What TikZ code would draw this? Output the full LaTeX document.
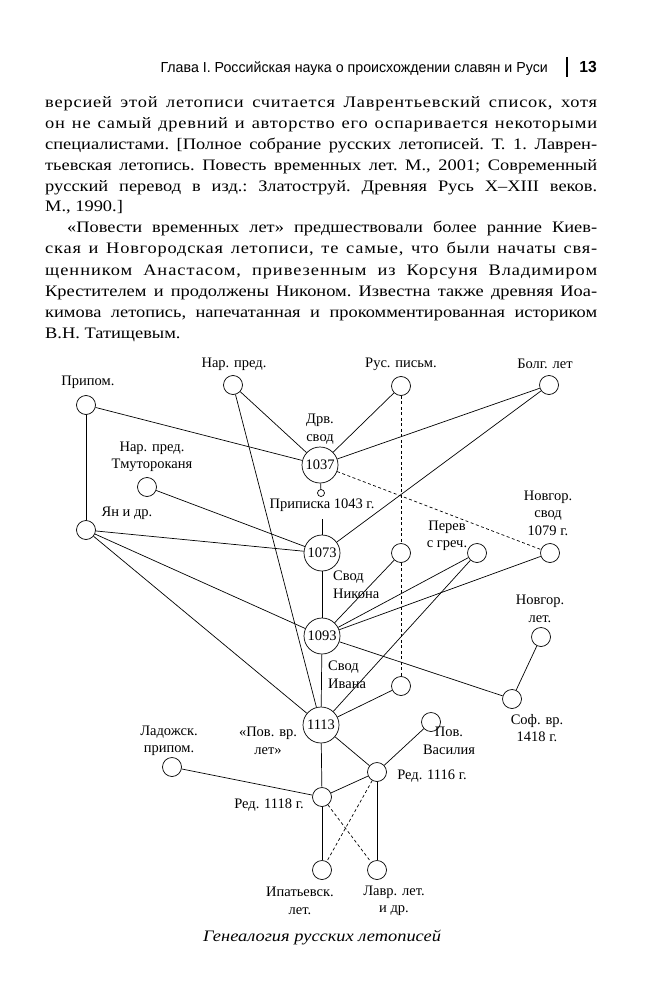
\documentclass[tikz,border=0pt]{standalone}
\usepackage{fontspec}
\setmainfont{Liberation Serif}
\newfontfamily\headfont[FakeStretch=0.98]{Liberation Sans}
\newfontfamily\bodyfont[FakeStretch=1.15]{Liberation Serif}
\newfontfamily\bodyfontA[FakeStretch=1.15,LetterSpace=5]{Liberation Serif}
\newfontfamily\bodyfontB[FakeStretch=1.15,LetterSpace=6]{Liberation Serif}
\newcommand{\bodysize}{\fontsize{16}{21}\selectfont\frenchspacing}
\begin{document}
\begin{tikzpicture}[x=1pt,y=-1pt,
  sm/.style={circle,draw,minimum size=19pt,inner sep=0pt,line width=0.7pt},
  big/.style={circle,draw,minimum size=36pt,inner sep=0pt,line width=0.7pt,font=\fontsize{14.5}{17}\selectfont},
  tinyc/.style={circle,draw,minimum size=7pt,inner sep=0pt,line width=0.7pt},
  lbl/.style={font=\fontsize{14.5}{17.5}\selectfont,align=center,inner sep=0pt},
  ln/.style={line width=0.7pt},
  dsh/.style={line width=0.7pt,dash pattern=on 3pt off 2.5pt},
  bodyline/.style={anchor=base west,inner sep=0pt,font=\bodyfont\bodysize},
  bodylineA/.style={anchor=base west,inner sep=0pt,font=\bodyfontA\bodysize},
  bodylineB/.style={anchor=base west,inner sep=0pt,font=\bodyfontB\bodysize}]
\useasboundingbox (0,0) rectangle (655,1000);
\fill[white] (0,0) rectangle (655,1000);
% header
\node[anchor=base east,inner sep=0pt,font=\headfont\fontsize{14.5}{17}\selectfont] (hd) at (548,73) {Глава I. Российская наука о происхождении славян и Руси};
\coordinate (bt) at (567,57);
\coordinate (bb) at (567,77);
\draw[line width=1.6pt] (bt) -- (bb);
\node[anchor=base east,inner sep=0pt,font=\headfont\fontsize{16}{18}\selectfont\bfseries] (pg) at (597,73) {13};
% body text
\node[bodylineA] (t1) at (45,108) {\makebox[552pt][s]{версией этой летописи считается Лаврентьевский список, хотя}};
\node[bodylineA] (t2) at (45,129) {\makebox[552pt][s]{он не самый древний и авторство его оспаривается некоторыми}};
\node[bodyline] (t3) at (45,150) {\makebox[552pt][s]{специалистами. [Полное собрание русских летописей. Т. 1. Лаврен-}};
\node[bodyline] (t4) at (45,171) {\makebox[552pt][s]{тьевская летопись. Повесть временных лет. М., 2001; Современный}};
\node[bodyline] (t5) at (45,192) {\makebox[552pt][s]{русский перевод в изд.: Златоструй. Древняя Русь X–XIII веков.}};
\node[bodyline] (t6) at (45,212) {М., 1990.]};
\node[bodyline] (t7) at (67,233) {\makebox[530pt][s]{«Повести временных лет» предшествовали более ранние Киев-}};
\node[bodylineA] (t8) at (45,254) {\makebox[552pt][s]{ская и Новгородская летописи, те самые, что были начаты свя-}};
\node[bodylineB] (t9) at (45,275) {\makebox[552pt][s]{щенником Анастасом, привезенным из Корсуня Владимиром}};
\node[bodyline] (t10) at (45,296) {\makebox[552pt][s]{Крестителем и продолжены Никоном. Известна также древняя Иоа-}};
\node[bodyline] (t11) at (45,317) {\makebox[552pt][s]{кимова летопись, напечатанная и прокомментированная историком}};
\node[bodyline] (t12) at (45,338) {В.Н. Татищевым.};
% circles
\node[sm] (pripom) at (86,405) {};
\node[sm] (narpred) at (233,385) {};
\node[sm] (ruspis) at (401,386) {};
\node[sm] (bolg) at (549,385) {};
\node[sm] (tmut) at (147,487) {};
\node[sm] (yan) at (86,530) {};
\node[big] (n1037) at (320,465) {1037};
\node[tinyc] (prip) at (321,493) {};
\node[big] (n1073) at (322,553) {1073};
\node[big] (n1093) at (322,636) {1093};
\node[big] (n1113) at (321,725) {1113};
\node[sm] (ca) at (401,553) {};
\node[sm] (cb) at (401,686) {};
\node[sm] (perev) at (477,553) {};
\node[sm] (novsv) at (550,553) {};
\node[sm] (novlet) at (541,637) {};
\node[sm] (sof) at (512,699) {};
\node[sm] (povvas) at (431,722) {};
\node[sm] (red16) at (377,772) {};
\node[sm] (red18) at (322,797) {};
\node[sm] (ladog) at (172,767) {};
\node[sm] (ipat) at (322,870) {};
\node[sm] (lavr) at (377,870) {};
\coordinate (pr) at (322,519);
% labels
\node[lbl] (lpripom) at (88,382) {Припом.};
\node[lbl] (lnarpred) at (234,364) {Нар. пред.};
\node[lbl] (lruspis) at (401,364) {Рус. письм.};
\node[lbl] (lbolg) at (545,364) {Болг. лет};
\node[lbl] (ldrv) at (320,429) {Дрв.\\свод};
\node[lbl] (ltmut) at (152,457) {Нар. пред.\\Тмутороканя};
\node[lbl] (lyan) at (127,513) {Ян и др.};
\node[lbl] (lprip) at (322,505) {Приписка 1043 г.};
\node[lbl] (lnovsv) at (548,513) {Новгор.\\свод\\1079 г.};
\node[lbl] (lperev) at (447,536) {Перев\\с греч.};
\node[lbl,align=left,anchor=west] (lnikon) at (333,585) {Свод\\Никона};
\node[lbl,align=left,anchor=west] (livan) at (328,675) {Свод\\Ивана};
\node[lbl] (lnovlet) at (540,609) {Новгор.\\лет.};
\node[lbl] (lsof) at (537,728) {Соф. вр.\\1418 г.};
\node[lbl] (lpovvas) at (449,741) {Пов.\\Василия};
\node[lbl] (lred16) at (432,776) {Ред. 1116 г.};
\node[lbl] (lred18) at (269,805) {Ред. 1118 г.};
\node[lbl] (lladog) at (169,741) {Ладожск.\\припом.};
\node[lbl] (lpvl) at (268,741) {«Пов. вр.\\лет»};
\node[lbl] (lipat) at (300,901) {Ипатьевск.\\лет.};
\node[lbl] (llavr) at (394,901) {Лавр. лет.\\и др.};
\node[lbl,font=\bodyfont\fontsize{16}{18}\selectfont\itshape] (cap) at (322,938) {Генеалогия русских летописей};
% edges
\draw[ln] (pripom) -- (n1037);
\draw[ln] (pripom) -- (yan);
\draw[ln] (narpred) -- (n1037);
\draw[ln] (narpred) -- (n1113);
\draw[ln] (ruspis) -- (n1037);
\draw[dsh] (ruspis) -- (ca);
\draw[dsh] (ca) -- (cb);
\draw[ln] (bolg) -- (n1037);
\draw[ln] (bolg) -- (n1073);
\draw[dsh] (n1037) -- (novsv);
\draw[ln] (n1037) -- (prip);
\draw[ln] (pr) -- (n1073);
\draw[ln] (tmut) -- (n1073);
\draw[ln] (yan) -- (n1073);
\draw[ln] (yan) -- (n1093);
\draw[ln] (yan) -- (n1113);
\draw[ln] (n1073) -- (n1093);
\draw[ln] (n1093) -- (n1113);
\draw[ln] (ca) -- (n1093);
\draw[ln] (perev) -- (n1093);
\draw[ln] (perev) -- (n1113);
\draw[ln] (novsv) -- (n1093);
\draw[ln] (n1093) -- (sof);
\draw[ln] (novlet) -- (sof);
\draw[ln] (cb) -- (n1113);
\draw[ln] (n1113) -- (red16);
\draw[ln] (n1113) -- (red18);
\draw[ln] (povvas) -- (red16);
\draw[ln] (red16) -- (red18);
\draw[ln] (ladog) -- (red18);
\draw[ln] (red18) -- (ipat);
\draw[ln] (red16) -- (lavr);
\draw[dsh] (red18) -- (lavr);
\draw[dsh] (red16) -- (ipat);
\end{tikzpicture}
\end{document}
